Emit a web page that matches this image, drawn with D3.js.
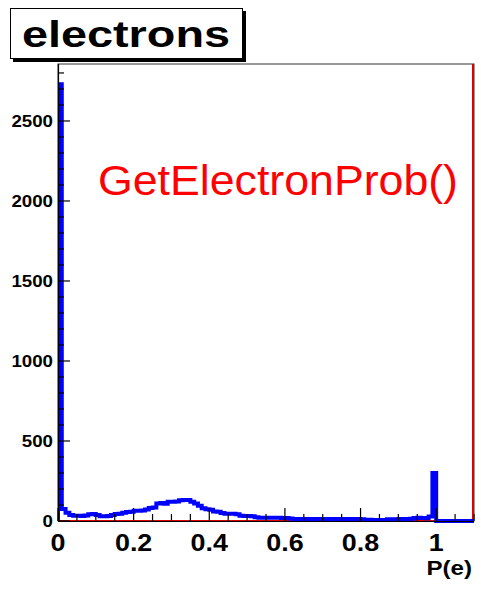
<!DOCTYPE html>
<html>
<head>
<meta charset="utf-8">
<script src="https://cdn.jsdelivr.net/npm/d3@7"></script>
<style>
  html, body { margin: 0; padding: 0; background: #fff; }
  svg { display: block; }
  text { font-family: "Liberation Sans", Arial, sans-serif; }
</style>
</head>
<body>
<script>
// Electron probability histogram: 110 bins of width 0.01 on [0, 1.1]
const binWidth = 0.01;
const xRange = [0, 1.1];
const yRange = [0, 2856];
const electronCounts = [
  2730, 75, 52, 38, 33, 33, 32, 34, 42, 44,
  38, 30, 30, 31, 38, 44, 46, 52, 56, 58,
  64, 64, 66, 72, 81, 85, 110, 112, 108, 120,
  120, 122, 130, 131, 132, 120, 110, 96, 80, 73,
  70, 60, 58, 50, 46, 45, 45, 42, 33, 31,
  31, 30, 24, 21, 21, 21, 20, 20, 21, 19,
  18, 15, 12, 11, 12, 11, 12, 9, 12, 12,
  11, 12, 12, 11, 12, 12, 12, 11, 12, 12,
  11, 8, 8, 6, 6, 7, 7, 11, 11, 11,
  12, 11, 12, 14, 18, 20, 18, 17, 28, 300,
  0, 0, 0, 0, 0, 0, 0, 0, 0, 0
];
const xTickLabels = ["0", "0.2", "0.4", "0.6", "0.8", "1"];
const xTickValues = [0, 0.2, 0.4, 0.6, 0.8, 1.0];
const yTickValues = [0, 500, 1000, 1500, 2000, 2500];
const titleText = "electrons";
const xAxisTitle = "P(e)";
const noteText = "GetElectronProb()";

const W = 481, H = 591;
const frame = { left: 58, right: 474, top: 64, bottom: 521 };

const svg = d3.select("body").append("svg").attr("width", W).attr("height", H);

const x = d3.scaleLinear().domain(xRange).range([frame.left, frame.right]);
const y = d3.scaleLinear().domain(yRange).range([frame.bottom, frame.top]);

svg.append("defs").append("clipPath").attr("id", "plotclip")
  .append("rect")
  .attr("x", frame.left).attr("y", frame.top - 1)
  .attr("width", frame.right - frame.left).attr("height", frame.bottom - frame.top + 3);

// frame
svg.append("rect")
  .attr("x", frame.left).attr("y", frame.top)
  .attr("width", frame.right - frame.left).attr("height", frame.bottom - frame.top)
  .attr("fill", "#fff").attr("stroke", "#333").attr("stroke-width", 1);

// second (reference) histogram, red: empty except the edge at the upper limit
const plot = svg.append("g").attr("clip-path", "url(#plotclip)");
plot.append("path")
  .attr("d", d3.line()([[x(0), y(0)], [x(1.1) - 1, y(0)], [x(1.1) - 1, y(yRange[1])]]))
  .attr("fill", "none").attr("stroke", "#e00000").attr("stroke-width", 2);

// blue histogram outline
const pts = [[xRange[0], 0]];
electronCounts.forEach((v, i) => {
  pts.push([i * binWidth, v]);
  pts.push([(i + 1) * binWidth, v]);
});
pts.push([xRange[1], 0]);
plot.append("path")
  .attr("d", d3.line().x(d => x(d[0])).y(d => y(d[1]))(pts))
  .attr("fill", "none").attr("stroke", "#0000ff").attr("stroke-width", 4)
  .attr("stroke-linejoin", "miter");

// axes with inward ticks
const ax = svg.append("g");
ax.append("line").attr("x1", frame.left).attr("x2", frame.right)
  .attr("y1", frame.bottom + 0.5).attr("y2", frame.bottom + 0.5)
  .attr("stroke", "#000").attr("stroke-width", 1.2);
ax.append("line").attr("x1", frame.left + 0.5).attr("x2", frame.left + 0.5)
  .attr("y1", frame.top).attr("y2", frame.bottom)
  .attr("stroke", "#000").attr("stroke-width", 1.2);

const xMinor = d3.range(0, 1.1001, 0.05);
ax.selectAll(".xt").data(xMinor).join("line")
  .attr("x1", d => x(d)).attr("x2", d => x(d))
  .attr("y1", frame.bottom)
  .attr("y2", d => frame.bottom - (Math.abs(d / 0.2 - Math.round(d / 0.2)) < 1e-6 ? 13 : 7))
  .attr("stroke", "#000").attr("stroke-width", 1.2);

const yMinor = d3.range(0, 2801, 100);
ax.selectAll(".yt").data(yMinor).join("line")
  .attr("y1", d => y(d)).attr("y2", d => y(d))
  .attr("x1", frame.left)
  .attr("x2", d => frame.left + (d % 500 === 0 ? 12 : 6))
  .attr("stroke", "#000").attr("stroke-width", 1.2);

// tick labels
ax.selectAll(".yl").data(yTickValues).join("text")
  .attr("x", 53).attr("y", d => y(d) + 6.5)
  .attr("text-anchor", "end")
  .attr("font-size", 17).attr("font-weight", "bold")
  .attr("transform", "translate(53,0) scale(1.1,1) translate(-53,0)")
  .text(d => d);

ax.selectAll(".xl").data(xTickValues).join("text")
  .attr("x", d => x(d)).attr("y", 551)
  .attr("text-anchor", "middle")
  .attr("font-size", 24).attr("font-weight", "bold")
  .attr("transform", d => `translate(${x(d)},0) scale(1.12,1) translate(${-x(d)},0)`)
  .text((d, i) => xTickLabels[i]);

// axis title
svg.append("text")
  .attr("x", 472).attr("y", 575)
  .attr("text-anchor", "end")
  .attr("font-size", 21).attr("font-weight", "bold")
  .attr("transform", "translate(472,0) scale(1.15,1) translate(-472,0)")
  .text(xAxisTitle);

// title box with shadow
svg.append("rect").attr("x", 13).attr("y", 11).attr("width", 233).attr("height", 51).attr("fill", "#000");
svg.append("rect").attr("x", 10.5).attr("y", 8.5).attr("width", 232).attr("height", 50)
  .attr("fill", "#fff").attr("stroke", "#000").attr("stroke-width", 1);
svg.append("text")
  .attr("x", 22).attr("y", 47)
  .attr("font-size", 36).attr("font-weight", "bold")
  .attr("textLength", 208).attr("lengthAdjust", "spacingAndGlyphs")
  .text(titleText);

// annotation
svg.append("text")
  .attr("x", 98).attr("y", 195)
  .attr("font-size", 42)
  .attr("fill", "#ff0000")
  .attr("font-family", "'DejaVu Sans', sans-serif")
  .attr("textLength", 360).attr("lengthAdjust", "spacingAndGlyphs")
  .text(noteText);
</script>
</body>
</html>
